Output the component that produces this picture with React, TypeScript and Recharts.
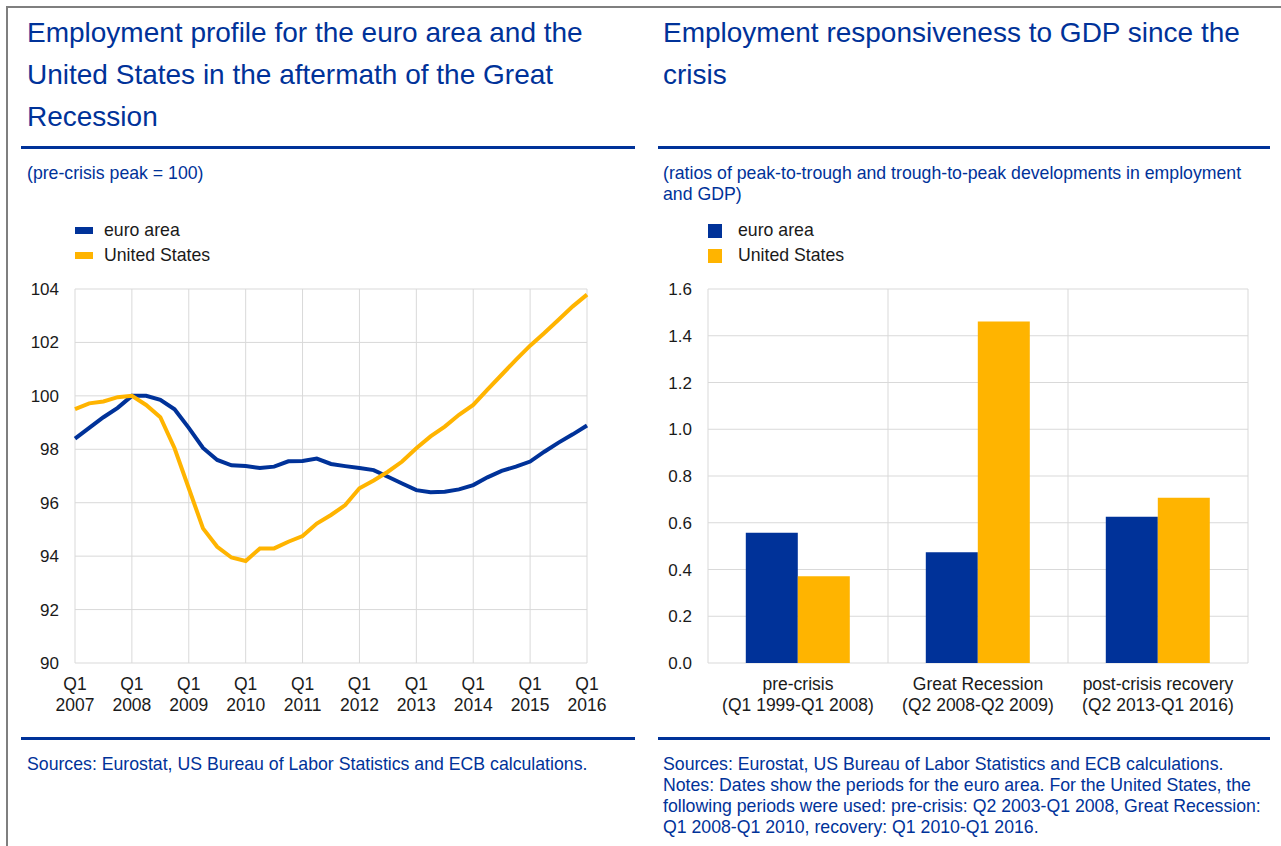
import React from 'react'
import { LineChart, Line, BarChart, Bar, XAxis, YAxis, CartesianGrid } from 'recharts'

const BLUE = '#003299'
const YELLOW = '#ffb400'
const GRID = '#d9d9d9'
const INK = '#1a1a1a'
const FONT = '"Liberation Sans", Arial, Helvetica, sans-serif'

// left panel: quarterly employment index, Q1 2007 - Q1 2016
const yearLabels = ['2007', '2008', '2009', '2010', '2011', '2012', '2013', '2014', '2015', '2016']
const euroArea = [
  98.4, 98.8, 99.2, 99.55,
  100.0, 100.0, 99.85, 99.5,
  98.8, 98.05, 97.6, 97.4,
  97.37, 97.3, 97.35, 97.55,
  97.56, 97.65, 97.45, 97.37,
  97.3, 97.22, 96.97, 96.72,
  96.47, 96.39, 96.41, 96.5,
  96.66, 96.95, 97.19, 97.35,
  97.54, 97.91, 98.25, 98.56,
  98.89,
]
const unitedStates = [
  99.5, 99.72, 99.79, 99.95,
  100.0, 99.66, 99.2, 98.04,
  96.54, 95.04, 94.35, 93.95,
  93.82, 94.29, 94.29, 94.54,
  94.75, 95.22, 95.54, 95.91,
  96.54, 96.83, 97.16, 97.54,
  98.04, 98.48, 98.85, 99.29,
  99.66, 100.23, 100.79, 101.35,
  101.88, 102.35, 102.85, 103.35,
  103.79,
]
const profileTicksY = [90, 92, 94, 96, 98, 100, 102, 104]

// right panel: employment/GDP ratios
const phases = ['pre-crisis', 'Great Recession', 'post-crisis recovery']
const phasePeriods = ['(Q1 1999-Q1 2008)', '(Q2 2008-Q2 2009)', '(Q2 2013-Q1 2016)']
const ratioEuroArea = [0.557, 0.474, 0.626]
const ratioUS = [0.371, 1.461, 0.707]
const ratioTicksY = [0, 0.2, 0.4, 0.6, 0.8, 1.0, 1.2, 1.4, 1.6]

const seriesNames = ['euro area', 'United States']
const seriesColors = [BLUE, YELLOW]

const profileData = euroArea.map((v, i) => ({ q: i, ea: v, us: unitedStates[i] }))
const quarterTicks = yearLabels.map((_, k) => k * 4)
const ratioData = phases.map((p, i) => ({ phase: p, ea: ratioEuroArea[i], us: ratioUS[i] }))

const BODY = 17.7

function QuarterTick({ x, y, payload }: any) {
  const year = yearLabels[Math.round(payload.value / 4)]
  return (
    <text x={x} y={y} textAnchor="middle" fontSize={17.5} fill={INK} fontFamily={FONT}>
      <tspan x={x} dy={27}>Q1</tspan>
      <tspan x={x} dy={20.5}>{year}</tspan>
    </text>
  )
}

function PhaseTick({ x, y, payload, index }: any) {
  return (
    <text x={x} y={y} textAnchor="middle" fontSize={17.5} fill={INK} fontFamily={FONT}>
      <tspan x={x} dy={27}>{payload.value}</tspan>
      <tspan x={x} dy={20.5}>{phasePeriods[index]}</tspan>
    </text>
  )
}

function Legend({ left, top, square }: { left: number; top: number; square: boolean }) {
  return (
    <div style={{ position: 'absolute', left, top }}>
      {seriesNames.map((name, i) => (
        <div key={name} style={{ display: 'flex', alignItems: 'center', height: 25 }}>
          <div
            style={{
              width: square ? 14 : 18,
              height: square ? 14 : 7,
              background: seriesColors[i],
              marginRight: square ? 16 : 11,
            }}
          />
          <span style={{ fontSize: BODY, color: INK }}>{name}</span>
        </div>
      ))}
    </div>
  )
}

const block = (left: number, top: number, size: number, lh: number): React.CSSProperties => ({
  position: 'absolute',
  left,
  top,
  fontSize: size,
  lineHeight: `${lh}px`,
  color: BLUE,
  whiteSpace: 'pre',
})

const rule = (left: number, top: number, width: number): React.CSSProperties => ({
  position: 'absolute',
  left,
  top,
  width,
  height: 3,
  background: BLUE,
})

export default function App() {
  const yTick = { fontSize: 17, fill: INK, fontFamily: FONT }
  return (
    <div
      style={{
        position: 'absolute',
        left: 0,
        top: 0,
        width: 1281,
        height: 846,
        background: '#fff',
        fontFamily: FONT,
        overflow: 'hidden',
      }}
    >
      <div
        style={{
          position: 'absolute',
          left: 6,
          top: 6,
          width: 1290,
          height: 860,
          borderTop: '2px solid #7f7f7f',
          borderLeft: '2px solid #7f7f7f',
        }}
      />

      <div style={block(27, 12, 28, 42)}>
        {'Employment profile for the euro area and the\nUnited States in the aftermath of the Great\nRecession'}
      </div>
      <div style={block(663, 12, 28, 42)}>{'Employment responsiveness to GDP since the\ncrisis'}</div>

      <div style={rule(21, 146, 614)} />
      <div style={rule(658, 146, 612)} />

      <div style={block(27, 163, BODY, 21)}>(pre-crisis peak = 100)</div>
      <div style={block(663, 163, BODY, 21)}>
        {'(ratios of peak-to-trough and trough-to-peak developments in employment\nand GDP)'}
      </div>

      <Legend left={75} top={218} square={false} />
      <Legend left={708} top={218} square={true} />

      <div style={{ position: 'absolute', left: 0, top: 270 }}>
        <LineChart width={640} height={470} data={profileData} margin={{ top: 19, right: 53, bottom: 17, left: 15 }}>
          <CartesianGrid stroke={GRID} />
          <XAxis
            dataKey="q"
            type="number"
            domain={[0, 36]}
            ticks={quarterTicks}
            interval={0}
            axisLine={false}
            tickLine={false}
            tickSize={0}
            tickMargin={0}
            height={60}
            tick={<QuarterTick />}
          />
          <YAxis
            domain={[90, 104]}
            ticks={profileTicksY}
            interval={0}
            axisLine={false}
            tickLine={false}
            tickSize={0}
            tickMargin={16}
            width={60}
            tick={yTick}
          />
          <Line dataKey="ea" stroke={BLUE} strokeWidth={4} dot={false} isAnimationActive={false} />
          <Line dataKey="us" stroke={YELLOW} strokeWidth={4} dot={false} isAnimationActive={false} />
        </LineChart>
      </div>

      <div style={{ position: 'absolute', left: 640, top: 270 }}>
        <BarChart
          width={641}
          height={470}
          data={ratioData}
          margin={{ top: 19, right: 33, bottom: 17, left: 8 }}
          barCategoryGap="21%"
          barGap={0}
        >
          <CartesianGrid
            stroke={GRID}
            verticalCoordinatesGenerator={({ offset }: any) =>
              [0, 1, 2, 3].map((k) => offset.left + (k * offset.width) / phases.length)
            }
          />
          <XAxis
            dataKey="phase"
            interval={0}
            axisLine={false}
            tickLine={false}
            tickSize={0}
            tickMargin={0}
            height={60}
            tick={<PhaseTick />}
          />
          <YAxis
            domain={[0, 1.6]}
            ticks={ratioTicksY}
            interval={0}
            tickFormatter={(v: number) => v.toFixed(1)}
            axisLine={false}
            tickLine={false}
            tickSize={0}
            tickMargin={16}
            width={60}
            tick={yTick}
          />
          <Bar dataKey="ea" fill={BLUE} isAnimationActive={false} />
          <Bar dataKey="us" fill={YELLOW} isAnimationActive={false} />
        </BarChart>
      </div>

      <div style={rule(21, 737, 614)} />
      <div style={rule(658, 737, 612)} />

      <div style={block(27, 754, BODY, 21)}>Sources: Eurostat, US Bureau of Labor Statistics and ECB calculations.</div>
      <div style={block(663, 754, BODY, 21)}>
        {'Sources: Eurostat, US Bureau of Labor Statistics and ECB calculations.\nNotes: Dates show the periods for the euro area. For the United States, the\nfollowing periods were used: pre-crisis: Q2 2003-Q1 2008, Great Recession:\nQ1 2008-Q1 2010, recovery: Q1 2010-Q1 2016.'}
      </div>
    </div>
  )
}
